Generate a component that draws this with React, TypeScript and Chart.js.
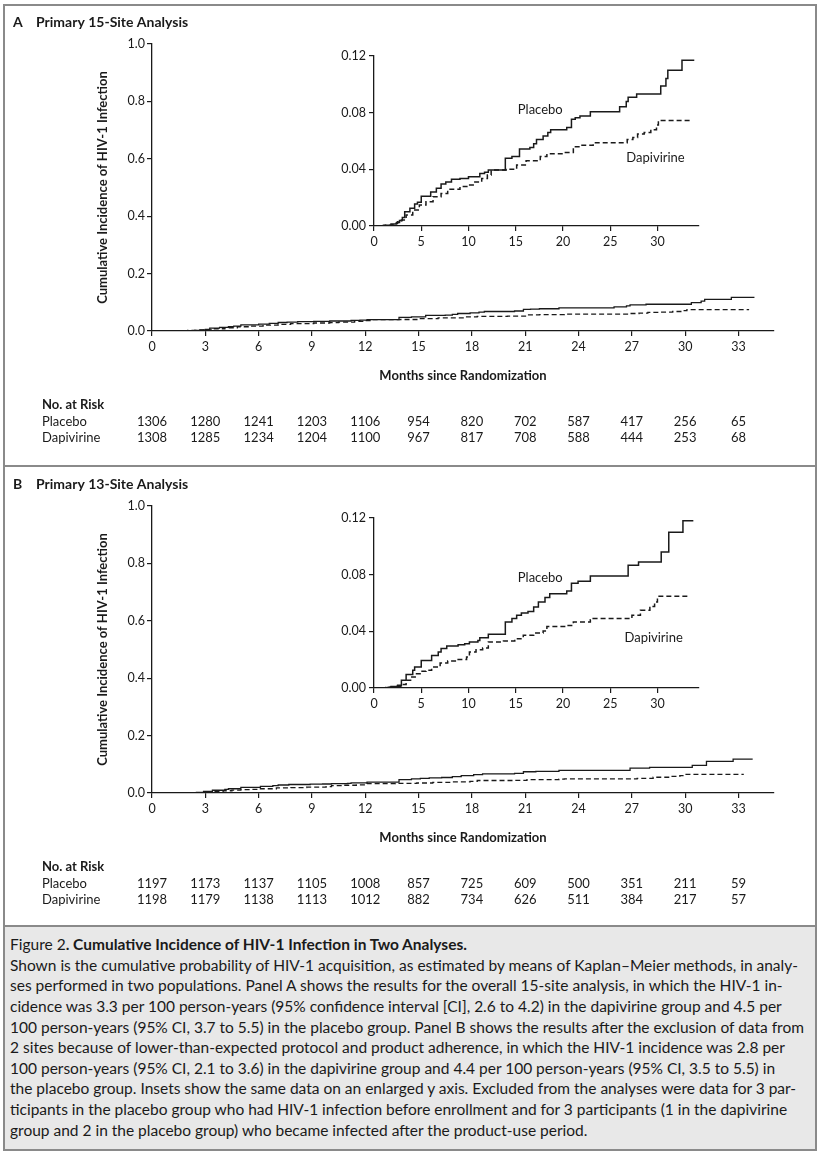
import React, { useEffect, useRef } from "react";
import { Chart, registerables } from "chart.js";

Chart.register(...registerables);

const FONT = "Lato";
const INK = "#1a1a1a";

// ---------- Panel A (15-site) ----------
const placeboA_months = [0, 1.2, 1.8, 2.4, 2.7, 3.0, 3.25, 3.8, 4.3, 4.6, 5.0, 6.0, 6.6, 7.1, 7.6, 8.2, 9.1, 10.0, 11.2, 11.7, 12.1, 13.9, 14.6, 15.4, 16.5, 16.9, 17.2, 17.9, 18.4, 18.7, 20.4, 20.9, 21.3, 21.8, 22.9, 26.0, 26.7, 26.9, 27.8, 30.35, 30.9, 31.1, 32.6, 33.9];
const placeboA_values = [0, 0.0005, 0.0014, 0.0024, 0.0038, 0.006, 0.01, 0.0125, 0.0155, 0.0167, 0.021, 0.024, 0.0266, 0.0297, 0.031, 0.033, 0.0336, 0.0348, 0.037, 0.038, 0.0395, 0.0478, 0.049, 0.0544, 0.0555, 0.058, 0.061, 0.0635, 0.066, 0.068, 0.0696, 0.0753, 0.0765, 0.0776, 0.0807, 0.0842, 0.0878, 0.0908, 0.0932, 0.0988, 0.1042, 0.11, 0.117, 0.117];
const dapivirineA_months = [0, 1.0, 2.0, 2.5, 2.9, 3.4, 4.1, 4.8, 5.5, 6.25, 7.1, 7.8, 9.1, 10.0, 10.5, 11.4, 12.0, 12.4, 14.0, 15.1, 16.1, 17.6, 18.3, 20.0, 21.1, 21.8, 23.2, 26.8, 27.4, 27.9, 28.6, 29.3, 29.9, 30.1, 33.6];
const dapivirineA_values = [0, 0.0005, 0.0019, 0.003, 0.0042, 0.0078, 0.0113, 0.0148, 0.0172, 0.0207, 0.023, 0.0259, 0.0278, 0.029, 0.031, 0.0336, 0.036, 0.0395, 0.04, 0.043, 0.046, 0.049, 0.051, 0.0518, 0.056, 0.057, 0.0588, 0.061, 0.0625, 0.065, 0.066, 0.068, 0.0713, 0.0744, 0.0744];

// ---------- Panel B (13-site) ----------
const placeboB_months = [0, 1.5, 1.8, 2.5, 2.9, 3.4, 4.1, 4.3, 5.0, 6.1, 6.8, 7.1, 7.7, 8.9, 9.6, 10.1, 11.0, 11.2, 12.1, 13.9, 14.6, 15.1, 15.6, 16.3, 16.9, 17.4, 18.1, 18.6, 20.4, 20.9, 21.6, 22.9, 26.9, 28.0, 30.4, 31.2, 32.7, 33.8];
const placeboB_values = [0, 0.0005, 0.001, 0.0019, 0.0054, 0.0096, 0.0125, 0.0148, 0.0195, 0.023, 0.0254, 0.0278, 0.0296, 0.0306, 0.0313, 0.0325, 0.0336, 0.0355, 0.0379, 0.0466, 0.049, 0.0513, 0.053, 0.054, 0.0572, 0.0607, 0.0638, 0.0666, 0.0685, 0.074, 0.0753, 0.079, 0.0866, 0.089, 0.096, 0.11, 0.118, 0.118];
const dapivirineB_months = [0, 1.3, 2.4, 2.9, 3.4, 4.0, 4.5, 5.0, 5.5, 6.1, 7.0, 7.8, 8.7, 9.8, 10.1, 10.8, 11.5, 12.1, 13.7, 14.9, 15.8, 16.9, 17.9, 18.3, 20.4, 21.1, 22.9, 23.2, 27.3, 28.2, 29.2, 29.7, 30.0, 33.3];
const dapivirineB_values = [0, 0.0005, 0.001, 0.0024, 0.0054, 0.0078, 0.01, 0.0118, 0.0125, 0.0148, 0.0176, 0.019, 0.0202, 0.0219, 0.0254, 0.027, 0.0282, 0.0325, 0.0332, 0.0348, 0.0372, 0.0388, 0.0402, 0.0435, 0.0442, 0.0466, 0.0482, 0.049, 0.0513, 0.0548, 0.0576, 0.0607, 0.0647, 0.0647];

// ---------- Number at risk ----------
const riskMonths = [0, 3, 6, 9, 12, 15, 18, 21, 24, 27, 30, 33];
const placeboA_risk = [1306, 1280, 1241, 1203, 1106, 954, 820, 702, 587, 417, 256, 65];
const dapivirineA_risk = [1308, 1285, 1234, 1204, 1100, 967, 817, 708, 588, 444, 253, 68];
const placeboB_risk = [1197, 1173, 1137, 1105, 1008, 857, 725, 609, 500, 351, 211, 59];
const dapivirineB_risk = [1198, 1179, 1138, 1113, 1012, 882, 734, 626, 511, 384, 217, 57];

// ---------- Axes ----------
const mainXTicks = [0, 3, 6, 9, 12, 15, 18, 21, 24, 27, 30, 33];
const mainYTicks = [0, 0.2, 0.4, 0.6, 0.8, 1.0];
const insetXTicks = [0, 5, 10, 15, 20, 25, 30];
const insetYTicks = [0, 0.04, 0.08, 0.12];

const Y_TITLE = "Cumulative Incidence of HIV-1 Infection";
const X_TITLE = "Months since Randomization";

const captionLines = [
  "Shown is the cumulative probability of HIV-1 acquisition, as estimated by means of Kaplan\u2013Meier methods, in analy-",
  "ses performed in two populations. Panel A shows the results for the overall 15-site analysis, in which the HIV-1 in-",
  "cidence was 3.3 per 100 person-years (95% confidence interval [CI], 2.6 to 4.2) in the dapivirine group and 4.5 per",
  "100 person-years (95% CI, 3.7 to 5.5) in the placebo group. Panel B shows the results after the exclusion of data from",
  "2 sites because of lower-than-expected protocol and product adherence, in which the HIV-1 incidence was 2.8 per",
  "100 person-years (95% CI, 2.1 to 3.6) in the dapivirine group and 4.4 per 100 person-years (95% CI, 3.5 to 5.5) in",
  "the placebo group. Insets show the same data on an enlarged y axis. Excluded from the analyses were data for 3 par-",
  "ticipants in the placebo group who had HIV-1 infection before enrollment and for 3 participants (1 in the dapivirine",
  "group and 2 in the placebo group) who became infected after the product-use period.",
];

type PanelCfg = {
  letter: string;
  title: string;
  pm: number[]; pv: number[];
  dm: number[]; dv: number[];
  riskP: number[]; riskD: number[];
  placeboLabel: [number, number];
  dapiLabel: [number, number];
};

const panelA: PanelCfg = {
  letter: "A", title: "Primary 15-Site Analysis",
  pm: placeboA_months, pv: placeboA_values, dm: dapivirineA_months, dv: dapivirineA_values,
  riskP: placeboA_risk, riskD: dapivirineA_risk,
  placeboLabel: [17.6, 0.082], dapiLabel: [29.8, 0.048],
};
const panelB: PanelCfg = {
  letter: "B", title: "Primary 13-Site Analysis",
  pm: placeboB_months, pv: placeboB_values, dm: dapivirineB_months, dv: dapivirineB_values,
  riskP: placeboB_risk, riskD: dapivirineB_risk,
  placeboLabel: [17.6, 0.078], dapiLabel: [29.6, 0.0353],
};

const pts = (xs: number[], ys: number[]) => xs.map((x, i) => ({ x, y: ys[i] }));

function axisCommon(size: number) {
  return {
    grid: { display: true, drawOnChartArea: false, drawTicks: true, tickLength: 5, color: INK, lineWidth: 1.2 },
    border: { display: true, color: INK, width: 1.3 },
    ticks: { font: { family: FONT, size }, color: INK },
  };
}

function makeMain(canvas: HTMLCanvasElement, cfg: PanelCfg) {
  const textPlugin = {
    id: "mainText",
    afterDraw(chart: any) {
      const { ctx, chartArea, scales } = chart;
      ctx.save();
      ctx.fillStyle = INK;
      ctx.textBaseline = "alphabetic";
      ctx.textAlign = "left";
      ctx.font = `bold 14px ${FONT}`;
      ctx.fillText(cfg.letter, 13, 27);
      ctx.fillText(cfg.title, 36, 27);

      ctx.font = `bold 13px ${FONT}`;
      ctx.save();
      ctx.translate(chartArea.left - 49, (chartArea.top + chartArea.bottom) / 2);
      ctx.rotate(-Math.PI / 2);
      ctx.textAlign = "center";
      ctx.textBaseline = "middle";
      ctx.fillText(Y_TITLE, 0, 0);
      ctx.restore();

      ctx.textAlign = "center";
      ctx.textBaseline = "middle";
      ctx.fillText(X_TITLE, (chartArea.left + chartArea.right) / 2, chartArea.bottom + 45);

      ctx.textAlign = "left";
      ctx.fillText("No. at Risk", 42, chartArea.bottom + 74);
      ctx.font = `13px ${FONT}`;
      ctx.fillText("Placebo", 42, chartArea.bottom + 91);
      ctx.fillText("Dapivirine", 42, chartArea.bottom + 106.5);
      ctx.textAlign = "center";
      riskMonths.forEach((m, i) => {
        const x = scales.x.getPixelForValue(m);
        ctx.fillText(String(cfg.riskP[i]), x, chartArea.bottom + 91);
        ctx.fillText(String(cfg.riskD[i]), x, chartArea.bottom + 106.5);
      });
      ctx.restore();
    },
  };
  const ax = axisCommon(12.5);
  return new Chart(canvas, {
    type: "line",
    data: {
      datasets: [
        { label: "Placebo", data: pts(cfg.pm, cfg.pv), borderColor: INK, borderWidth: 1.3, stepped: true, pointRadius: 0, fill: false },
        { label: "Dapivirine", data: pts(cfg.dm, cfg.dv), borderColor: INK, borderWidth: 1.3, borderDash: [5, 3], stepped: true, pointRadius: 0, fill: false },
      ],
    },
    options: {
      animation: false,
      responsive: false,
      maintainAspectRatio: false,
      events: [],
      layout: { padding: { left: 92, top: 44, right: 53, bottom: 103 } },
      plugins: { legend: { display: false }, tooltip: { enabled: false } },
      scales: {
        x: {
          type: "linear", min: 0, max: 35,
          afterBuildTicks: (s: any) => { s.ticks = mainXTicks.map((v) => ({ value: v })); },
          afterFit: (s: any) => { s.height = 30; },
          grid: ax.grid, border: ax.border,
          ticks: { ...ax.ticks, padding: 3, maxRotation: 0, callback: (v: any) => String(v) },
        },
        y: {
          type: "linear", min: 0, max: 1,
          afterBuildTicks: (s: any) => { s.ticks = mainYTicks.map((v) => ({ value: v })); },
          afterFit: (s: any) => { s.width = 60; },
          grid: ax.grid, border: ax.border,
          ticks: { ...ax.ticks, padding: 2, callback: (v: any) => Number(v).toFixed(1) },
        },
      },
    },
    plugins: [textPlugin],
  } as any);
}

function makeInset(canvas: HTMLCanvasElement, cfg: PanelCfg) {
  const labelPlugin = {
    id: "insetLabels",
    afterDraw(chart: any) {
      const { ctx, scales } = chart;
      ctx.save();
      ctx.fillStyle = INK;
      ctx.font = `13px ${FONT}`;
      ctx.textAlign = "center";
      ctx.textBaseline = "middle";
      ctx.fillText("Placebo", scales.x.getPixelForValue(cfg.placeboLabel[0]), scales.y.getPixelForValue(cfg.placeboLabel[1]));
      ctx.fillText("Dapivirine", scales.x.getPixelForValue(cfg.dapiLabel[0]), scales.y.getPixelForValue(cfg.dapiLabel[1]));
      ctx.restore();
    },
  };
  const ax = axisCommon(12.5);
  return new Chart(canvas, {
    type: "line",
    data: {
      datasets: [
        { label: "Placebo", data: pts(cfg.pm, cfg.pv), borderColor: INK, borderWidth: 1.5, stepped: true, pointRadius: 0, fill: false },
        { label: "Dapivirine", data: pts(cfg.dm, cfg.dv), borderColor: INK, borderWidth: 1.5, borderDash: [5, 3], stepped: true, pointRadius: 0, fill: false },
      ],
    },
    options: {
      animation: false,
      responsive: false,
      maintainAspectRatio: false,
      events: [],
      layout: { padding: { left: 24, top: 16, right: 21, bottom: 10 } },
      plugins: { legend: { display: false }, tooltip: { enabled: false } },
      scales: {
        x: {
          type: "linear", min: 0, max: 34.4,
          afterBuildTicks: (s: any) => { s.ticks = insetXTicks.map((v) => ({ value: v })); },
          afterFit: (s: any) => { s.height = 24; },
          grid: ax.grid, border: ax.border,
          ticks: { ...ax.ticks, padding: 3, maxRotation: 0, callback: (v: any) => String(v) },
        },
        y: {
          type: "linear", min: 0, max: 0.12,
          afterBuildTicks: (s: any) => { s.ticks = insetYTicks.map((v) => ({ value: v })); },
          afterFit: (s: any) => { s.width = 50; },
          grid: ax.grid, border: ax.border,
          ticks: { ...ax.ticks, padding: 3, callback: (v: any) => Number(v).toFixed(2) },
        },
      },
    },
    plugins: [labelPlugin],
  } as any);
}

function Panel({ cfg, top }: { cfg: PanelCfg; top: number }) {
  const mainRef = useRef<HTMLCanvasElement>(null);
  const insetRef = useRef<HTMLCanvasElement>(null);
  useEffect(() => {
    const m = makeMain(mainRef.current!, cfg);
    const i = makeInset(insetRef.current!, cfg);
    return () => { m.destroy(); i.destroy(); };
  }, [cfg]);
  return (
    <>
      <canvas ref={mainRef} width={827} height={464}
        style={{ position: "absolute", left: 0, top, width: 827, height: 464 }} />
      <canvas ref={insetRef} width={420} height={220}
        style={{ position: "absolute", left: 300, top: top + 40, width: 420, height: 220 }} />
    </>
  );
}

export default function App() {
  const border = "2px solid #8a8a8a";
  const lineH = 20.6;
  const capTop = 934.1;
  const capFont = 15.5;
  return (
    <div style={{ position: "absolute", left: 0, top: 0, width: 827, height: 1156, background: "#fff", fontFamily: FONT, color: INK }}>
      <div style={{ position: "absolute", left: 3, top: 4, width: 814, height: 463, border, boxSizing: "border-box" }} />
      <div style={{ position: "absolute", left: 3, top: 465, width: 814, height: 462, border, boxSizing: "border-box" }} />
      <div style={{ position: "absolute", left: 3, top: 925, width: 814, height: 226, border, boxSizing: "border-box", background: "#e8e8e8" }} />
      <Panel cfg={panelA} top={0} />
      <Panel cfg={panelB} top={462} />
      <div style={{ position: "absolute", left: 10, top: capTop, height: lineH, lineHeight: `${lineH}px`, fontSize: capFont, whiteSpace: "nowrap" }}>
        <span>Figure 2</span><span style={{ fontWeight: 700 }}>. Cumulative Incidence of HIV-1 Infection in Two Analyses.</span>
      </div>
      {captionLines.map((t, i) => (
        <div key={i} style={{ position: "absolute", left: 10, top: capTop + (i + 1) * lineH, height: lineH, lineHeight: `${lineH}px`, fontSize: capFont, whiteSpace: "nowrap" }}>
          {t}
        </div>
      ))}
    </div>
  );
}
